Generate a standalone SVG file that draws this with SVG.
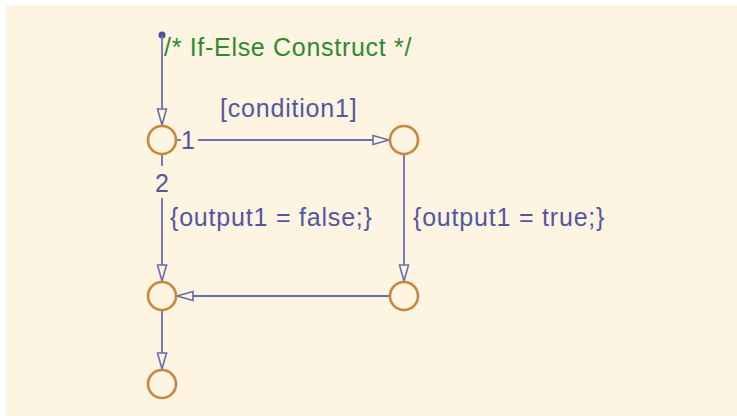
<svg xmlns="http://www.w3.org/2000/svg" width="737" height="416" viewBox="0 0 737 416">
  <style>
    .bg { fill: #fdf4e2; }
    .junction { fill: none; stroke: #c8873a; stroke-width: 2.6; }
    .wire { fill: none; stroke: #6a6eae; stroke-width: 1.8; }
    .label { font-family: "Liberation Sans", Arial, sans-serif; font-size: 25px; letter-spacing: 0.8px; fill: #5357a0; }
    .comment { font-family: "Liberation Sans", Arial, sans-serif; font-size: 25px; letter-spacing: 0.7px; fill: #2f8a2f; }
  </style>
  <defs>
    <marker id="open-arrow" markerUnits="userSpaceOnUse" markerWidth="20" markerHeight="12" viewBox="-18 -6 20 12" refX="0" refY="0" orient="auto">
      <path d="M0,0 L-16,-4.5 L-16,4.5 Z" fill="#fdf4e2" stroke="#6a6eae" stroke-width="1.6" stroke-linejoin="miter"/>
    </marker>
  </defs>

  <rect x="0" y="0" width="737" height="416" fill="#ffffff"/>
  <rect class="bg" x="6" y="5" width="731" height="411"/>

  <!-- transitions -->
  <g id="connectors">
    <!-- default transition -->
    <circle cx="162" cy="35" r="3.5" fill="#4a4f9c"/>
    <path class="wire" d="M162,35 L162,125" marker-end="url(#open-arrow)"/>
    <!-- [condition1] -->
    <path class="wire" d="M176,140 L181,140"/>
    <path class="wire" d="M198,140 L389,140" marker-end="url(#open-arrow)"/>
    <!-- else branch -->
    <path class="wire" d="M162,154 L162,166"/>
    <path class="wire" d="M162,198 L162,281" marker-end="url(#open-arrow)"/>
    <!-- true branch -->
    <path class="wire" d="M404,155 L404,281" marker-end="url(#open-arrow)"/>
    <!-- merge -->
    <path class="wire" d="M389,296 L177,296" marker-end="url(#open-arrow)"/>
    <!-- exit -->
    <path class="wire" d="M162,311 L162,369" marker-end="url(#open-arrow)"/>
  </g>

  <g id="comment">
    <text class="comment" x="164" y="56">/* If-Else Construct */</text>
  </g>

  <g id="labels">
    <text class="label" x="220" y="117">[condition1]</text>
    <text class="label" x="181" y="149" letter-spacing="0">1</text>
    <text class="label" x="155" y="192" letter-spacing="0">2</text>
    <text class="label" x="170" y="226">{output1 = false;}</text>
    <text class="label" x="413" y="226">{output1 = true;}</text>
  </g>

  <g id="j-start"><circle class="junction" cx="162" cy="140" r="14"/></g>
  <g id="j-cond"><circle class="junction" cx="404" cy="140" r="14"/></g>
  <g id="j-false"><circle class="junction" cx="162" cy="296" r="14"/></g>
  <g id="j-true"><circle class="junction" cx="404" cy="296" r="14"/></g>
  <g id="j-end"><circle class="junction" cx="162" cy="384" r="14"/></g>
</svg>
